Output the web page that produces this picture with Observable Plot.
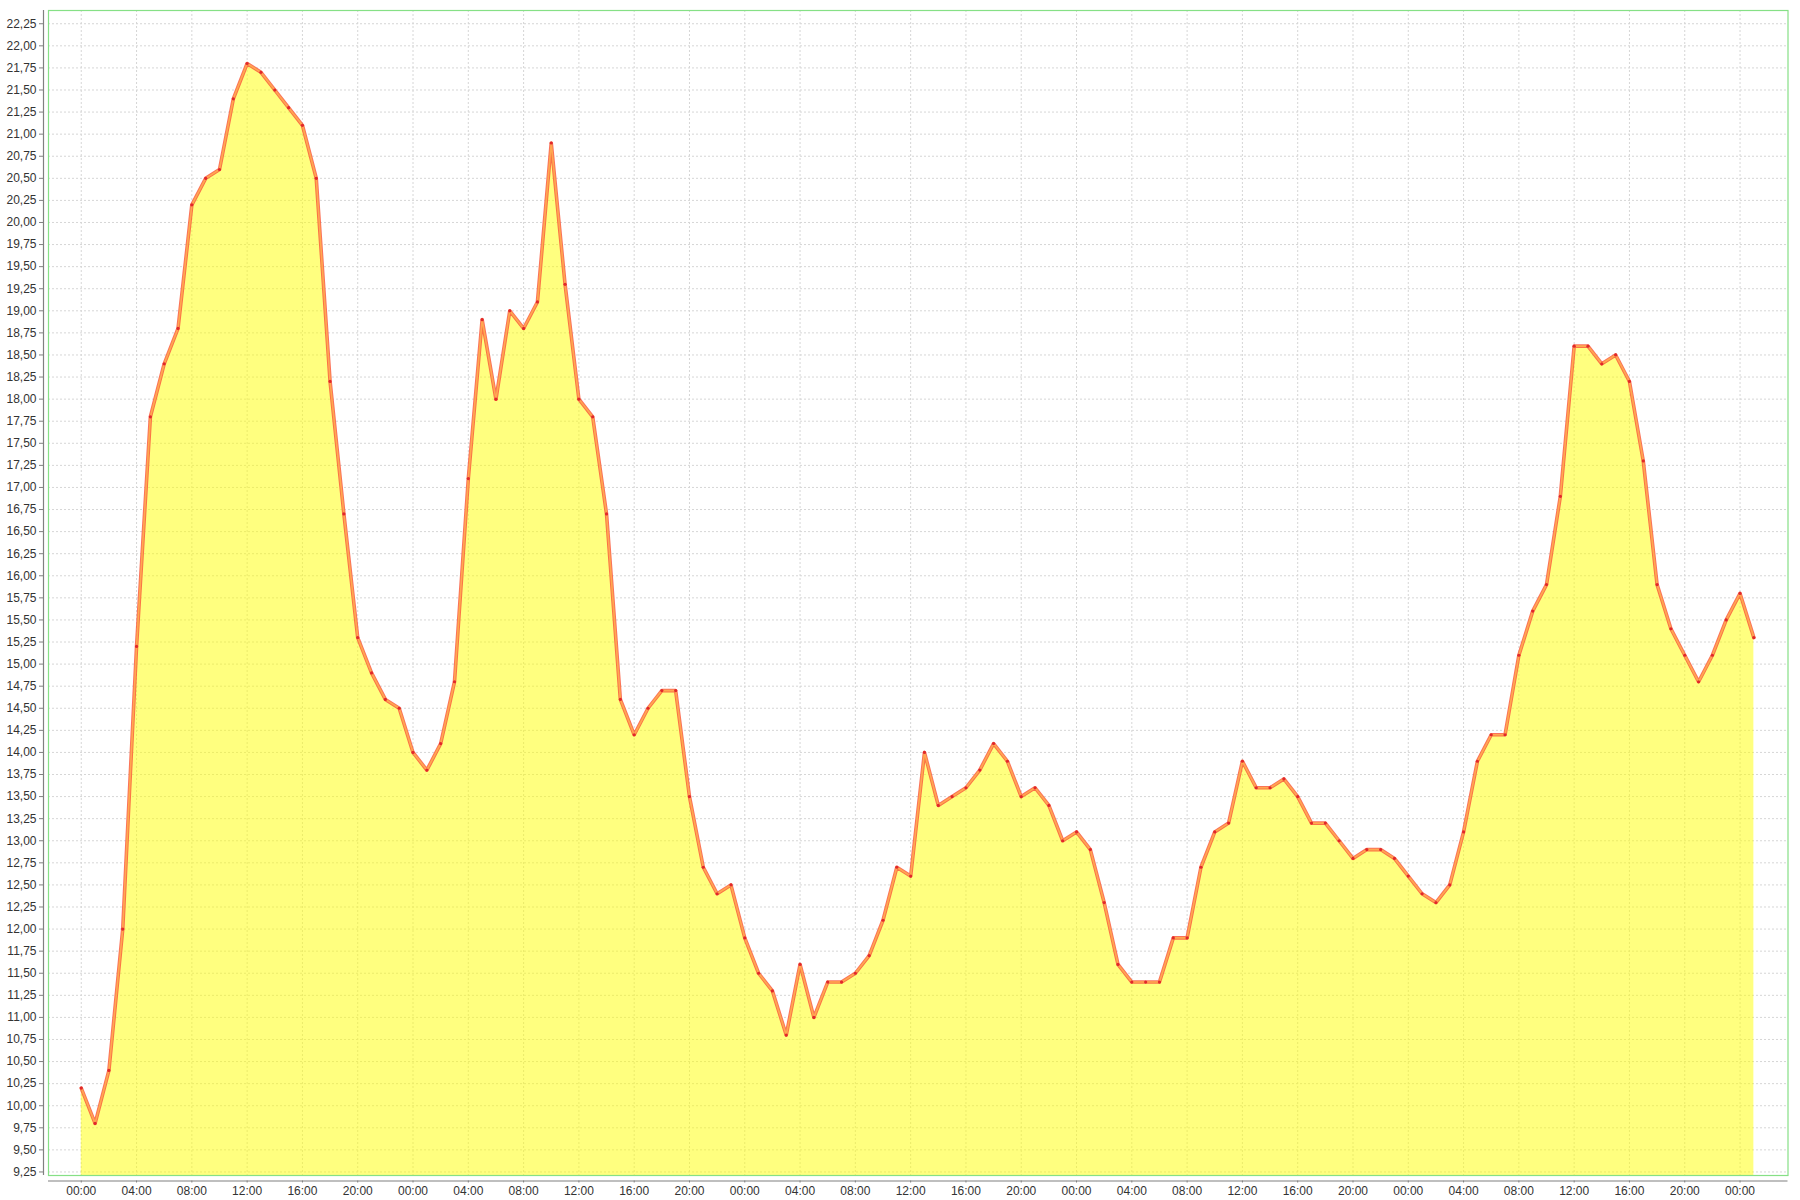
<!DOCTYPE html>
<html>
<head>
<meta charset="utf-8">
<script src="https://cdn.jsdelivr.net/npm/d3@7"></script>
<script src="https://cdn.jsdelivr.net/npm/@observablehq/plot@0.6"></script>
<style>
  html, body { margin: 0; padding: 0; background: #fff; overflow: hidden; }
  #chart svg { display: block; }
</style>
</head>
<body>
<div id="chart"></div>
<script>
// Hourly readings, starting at 00:00 of the first day
const startTime = Date.UTC(2010, 0, 4, 0, 0);
const values = [
  10.2, 9.8, 10.4, 12.0, 15.2, 17.8, 18.4, 18.8, 20.2, 20.5, 20.6, 21.4,
  21.8, 21.7, 21.5, 21.3, 21.1, 20.5, 18.2, 16.7, 15.3, 14.9, 14.6, 14.5,
  14.0, 13.8, 14.1, 14.8, 17.1, 18.9, 18.0, 19.0, 18.8, 19.1, 20.9, 19.3,
  18.0, 17.8, 16.7, 14.6, 14.2, 14.5, 14.7, 14.7, 13.5, 12.7, 12.4, 12.5,
  11.9, 11.5, 11.3, 10.8, 11.6, 11.0, 11.4, 11.4, 11.5, 11.7, 12.1, 12.7,
  12.6, 14.0, 13.4, 13.5, 13.6, 13.8, 14.1, 13.9, 13.5, 13.6, 13.4, 13.0,
  13.1, 12.9, 12.3, 11.6, 11.4, 11.4, 11.4, 11.9, 11.9, 12.7, 13.1, 13.2,
  13.9, 13.6, 13.6, 13.7, 13.5, 13.2, 13.2, 13.0, 12.8, 12.9, 12.9, 12.8,
  12.6, 12.4, 12.3, 12.5, 13.1, 13.9, 14.2, 14.2, 15.1, 15.6, 15.9, 16.9,
  18.6, 18.6, 18.4, 18.5, 18.2, 17.3, 15.9, 15.4, 15.1, 14.8, 15.1, 15.5,
  15.8, 15.3
];
const yTickValues = d3.range(37, 90).map(k => k / 4); // 9.25 ... 22.25
const hour = 3600 * 1000;

const data = values.map((v, i) => ({ t: new Date(startTime + i * hour), v }));

const yDomain = [9.21, 22.40];
const xDomain = [new Date(startTime - 2.37 * hour), new Date(startTime + 123.47 * hour)];
const xTicks = d3.utcHour.every(4).range(xDomain[0], xDomain[1]);
const fmtY = d => d.toFixed(2).replace(".", ",");
const fmtX = d3.utcFormat("%H:%M");

const chart = Plot.plot({
  width: 1800,
  height: 1200,
  marginLeft: 48,
  marginRight: 12.5,
  marginTop: 10,
  marginBottom: 25,
  style: { fontFamily: "'Liberation Sans Narrow', 'Liberation Sans', sans-serif", fontSize: "12px", background: "#fff" },
  x: { type: "utc", domain: xDomain },
  y: { domain: yDomain },
  marks: [
    Plot.gridY(yTickValues, { stroke: "#d6d6d6", strokeOpacity: 1, strokeDasharray: "2,2" }),
    Plot.gridX(xTicks, { stroke: "#d6d6d6", strokeOpacity: 1, strokeDasharray: "2,2" }),
    Plot.areaY(data, { x: "t", y1: () => yDomain[0], y2: "v", fill: "#ffff00", fillOpacity: 0.5 }),
    Plot.lineY(data, { x: "t", y: "v", stroke: "#fa5a3c", strokeWidth: 3.6, strokeOpacity: 0.85 }),
    Plot.lineY(data, { x: "t", y: "v", stroke: "#ffa850", strokeWidth: 1.6 }),
    Plot.dot(data, { x: "t", y: "v", r: 1.6, fill: "#e0282a", stroke: "none" }),
    Plot.frame({ stroke: "#86e086", strokeWidth: 1.2 }),
    Plot.ruleX([xDomain[0]], { dx: -5, stroke: "#808080", strokeWidth: 1.2 }),
    Plot.ruleY([yDomain[0]], { dy: 5.5, stroke: "#808080", strokeWidth: 1.2 }),
    Plot.axisY(yTickValues, {
      anchor: "left", dx: -5, tickSize: 4, tickPadding: 3,
      tickFormat: fmtY, stroke: "#808080", fill: "#333", label: null
    }),
    Plot.axisX(xTicks, {
      anchor: "bottom", dy: 5.5, tickSize: 2, tickPadding: 3,
      tickFormat: fmtX, stroke: "#808080", fill: "#333", label: null
    })
  ]
});

document.getElementById("chart").appendChild(chart);
</script>
</body>
</html>
